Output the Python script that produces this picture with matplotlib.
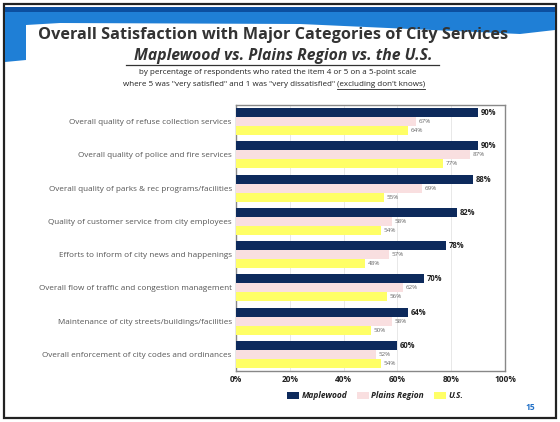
import matplotlib
matplotlib.use("Agg")
import matplotlib.pyplot as plt
from matplotlib.patches import Polygon, Rectangle
import numpy as np

categories = [
    "Overall quality of refuse collection services",
    "Overall quality of police and fire services",
    "Overall quality of parks & rec programs/facilities",
    "Quality of customer service from city employees",
    "Efforts to inform of city news and happenings",
    "Overall flow of traffic and congestion management",
    "Maintenance of city streets/buildings/facilities",
    "Overall enforcement of city codes and ordinances",
]
maplewood = [90, 90, 88, 82, 78, 70, 64, 60]
plains = [67, 87, 69, 58, 57, 62, 58, 52]
us = [64, 77, 55, 54, 48, 56, 50, 54]
series_names = ["Maplewood", "Plains Region", "U.S."]
xticks = [0, 20, 40, 60, 80, 100]

c_map = "#0d2a5c"
c_pla = "#f9dfe0"
c_us = "#ffff66"

plt.rcParams["font.family"] = ["Open Sans", "DejaVu Sans"]

fig = plt.figure(figsize=(5.6, 4.22), dpi=100)

# slide frame and blue header swoosh
W, H = 560, 422
def fx(x): return x / W
def fy(y): return 1 - y / H
frame = Rectangle((fx(4), fy(418)), fx(552), (414) / H, transform=fig.transFigure,
                  fill=False, edgecolor="#222222", linewidth=1.6)
fig.add_artist(frame)
band = Polygon([(fx(5), fy(7)), (fx(555), fy(7)), (fx(555), fy(30)), (fx(520), fy(34)),
                (fx(300), fy(24)), (fx(60), fy(23)), (fx(26), fy(25)), (fx(26), fy(60)),
                (fx(5), fy(62))], closed=True, transform=fig.transFigure,
               facecolor="#1f7fd6", edgecolor="none")
fig.add_artist(band)
hl = Polygon([(fx(5), fy(7)), (fx(555), fy(7)), (fx(555), fy(12)), (fx(5), fy(12))],
             closed=True, transform=fig.transFigure, facecolor="#0c4fa0", edgecolor="none")
fig.add_artist(hl)

fig.text(0.488, fy(35), "Overall Satisfaction with Major Categories of City Services",
         ha="center", va="center", fontsize=11.7, fontweight="bold", color="#333333")
fig.text(0.505, fy(56), "Maplewood vs. Plains Region vs. the U.S.",
         ha="center", va="center", fontsize=11.3, fontweight="bold", fontstyle="italic",
         color="#333333")
fig.add_artist(plt.Line2D([fx(126), fx(439)], [fy(65), fy(65)], transform=fig.transFigure,
                          color="#333333", linewidth=0.9))
fig.text(fx(278), fy(73), "by percentage of respondents who rated the item 4 or 5 on a 5-point scale",
         ha="center", va="center", fontsize=5.8, color="#222222")
t_a = fig.text(fx(123), fy(84), "where 5 was \"very satisfied\" and 1 was \"very dissatisfied\" ",
               ha="left", va="center", fontsize=5.8, color="#222222")
fig.canvas.draw()
r = fig.canvas.get_renderer()
bb = t_a.get_window_extent(r)
t_b = fig.text(bb.x1 / fig.bbox.width, fy(84), "(excluding don't knows)",
               ha="left", va="center", fontsize=5.8, color="#222222")
bb2 = t_b.get_window_extent(r)
fig.add_artist(plt.Line2D([bb2.x0 / fig.bbox.width, bb2.x1 / fig.bbox.width],
                          [fy(88.5), fy(88.5)], transform=fig.transFigure,
                          color="#222222", linewidth=0.6))

ax = fig.add_axes([fx(236), fy(371), fx(505) - fx(236), (371 - 105) / H])

n = len(categories)
y = np.arange(n)
h = 0.27
ax.barh(y - h, maplewood, height=h, color=c_map, label=series_names[0], zorder=3)
ax.barh(y, plains, height=h, color=c_pla, label=series_names[1], zorder=3)
ax.barh(y + h, us, height=h, color=c_us, label=series_names[2], zorder=3)

for i in range(n):
    ax.text(maplewood[i] + 1, y[i] - h, f"{maplewood[i]}%", va="center", ha="left",
            fontsize=5.5, fontweight="bold", color="#222222")
    ax.text(plains[i] + 1, y[i], f"{plains[i]}%", va="center", ha="left",
            fontsize=4.5, color="#666666")
    ax.text(us[i] + 1, y[i] + h, f"{us[i]}%", va="center", ha="left",
            fontsize=4.5, color="#666666")

ax.set_ylim(n - 0.5, -0.5)
ax.set_xlim(0, 100)
ax.set_yticks(y)
ax.set_yticklabels(categories, fontsize=5.9, color="#555555")
ax.set_xticks(xticks)
ax.set_xticklabels([f"{t}%" for t in xticks], fontsize=6, fontweight="bold", color="#222222")
ax.tick_params(axis="both", length=0, pad=3)
ax.grid(axis="x", color="#e4e4e4", linewidth=0.6, zorder=0)
for s in ax.spines.values():
    s.set_color("#888888")
    s.set_linewidth(1.0)

leg = fig.legend(loc="center", bbox_to_anchor=(fx(375), fy(396)), ncol=3, frameon=False,
                 fontsize=6, handlelength=1.4, handleheight=0.8, columnspacing=1.2,
                 handletextpad=0.3)
for t in leg.get_texts():
    t.set_fontweight("bold")
    t.set_fontstyle("italic")
    t.set_color("#222222")

fig.text(fx(530), fy(407), "15", ha="center", va="center", fontsize=6, fontweight="bold",
         color="#1f6fc6")

fig.savefig("out.png", dpi=100, facecolor="white")
